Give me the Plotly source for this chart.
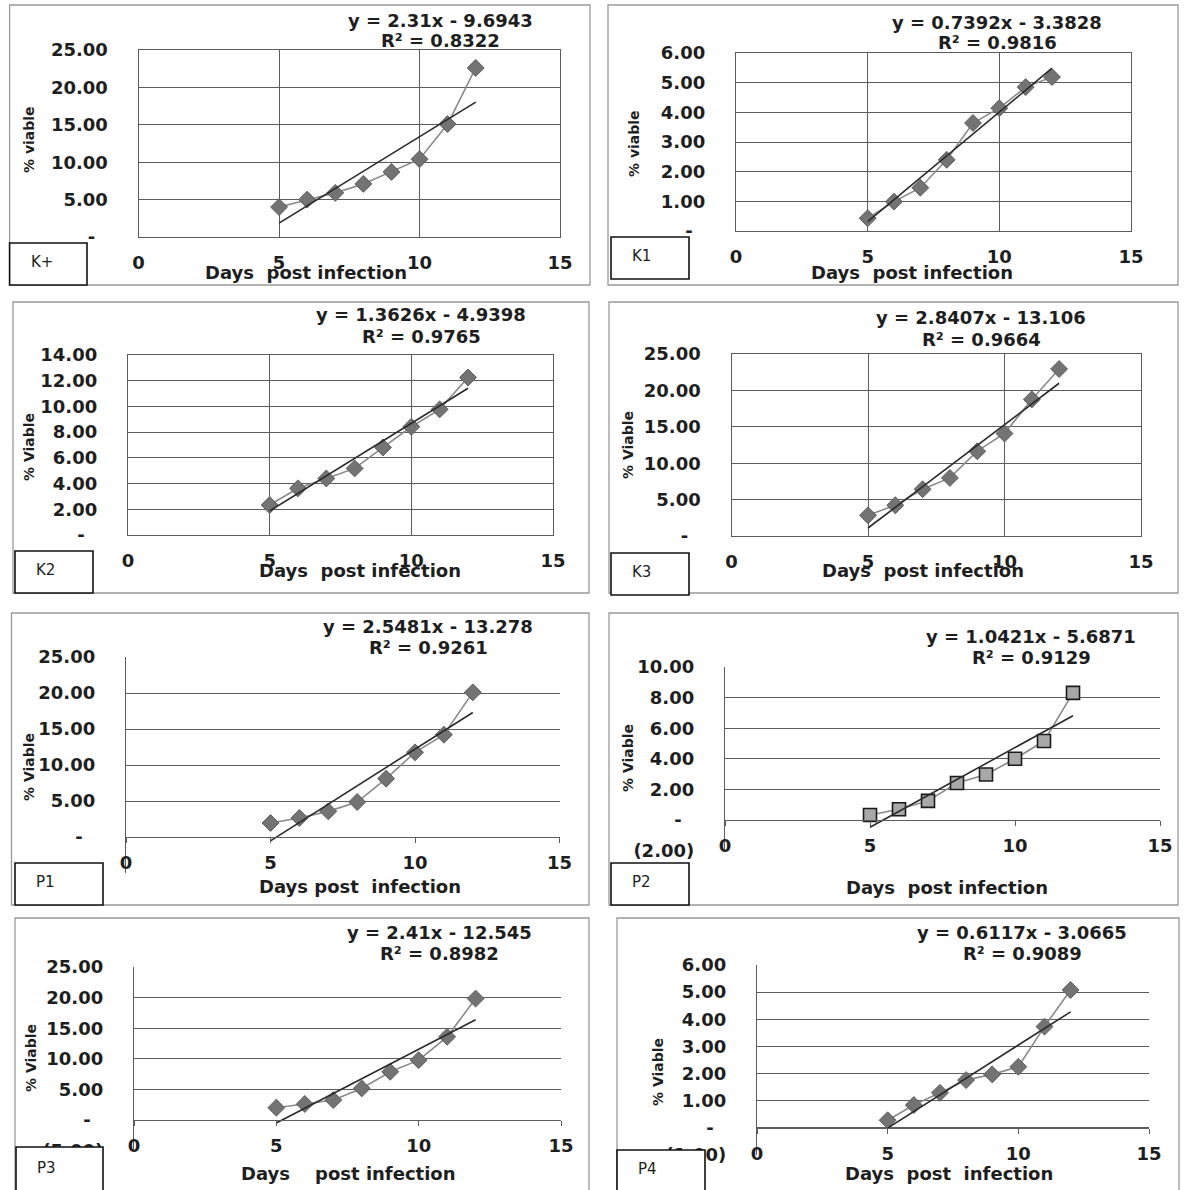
import plotly.graph_objects as go

W, H = 1186, 1190

# ---------------- data ----------------
days = [5, 6, 7, 8, 9, 10, 11, 12]
viable_kplus = [4.0, 5.0, 5.9, 7.1, 8.7, 10.4, 15.1, 22.6]
viable_k1 = [0.43, 0.99, 1.46, 2.40, 3.64, 4.14, 4.85, 5.19]
viable_k2 = [2.33, 3.63, 4.40, 5.18, 6.81, 8.42, 9.77, 12.25]
viable_k3 = [2.84, 4.22, 6.42, 7.98, 11.65, 14.08, 18.76, 22.94]
viable_p1 = [1.94, 2.64, 3.56, 4.86, 8.10, 11.76, 14.21, 20.09]
viable_p2 = [0.33, 0.70, 1.25, 2.42, 2.97, 4.00, 5.16, 8.31]
viable_p3 = [2.01, 2.61, 3.26, 5.16, 7.88, 9.78, 13.59, 19.84]
viable_p4 = [0.28, 0.84, 1.29, 1.76, 1.97, 2.25, 3.73, 5.08]

panel_names = ["K+", "K1", "K2", "K3", "P1", "P2", "P3", "P4"]
slopes = [2.31, 0.7392, 1.3626, 2.8407, 2.5481, 1.0421, 2.41, 0.6117]
intercepts = [-9.6943, -3.3828, -4.9398, -13.106, -13.278, -5.6871, -12.545, -3.0665]
slope_text = ["2.31", "0.7392", "1.3626", "2.8407", "2.5481", "1.0421", "2.41", "0.6117"]
intercept_text = ["9.6943", "3.3828", "4.9398", "13.106", "13.278", "5.6871", "12.545", "3.0665"]
r2_text = ["0.8322", "0.9816", "0.9765", "0.9664", "0.9261", "0.9129", "0.8982", "0.9089"]
y_titles = ["% viable", "% viable", "% Viable", "% Viable", "% Viable", "% Viable", "% Viable", "% Viable"]
x_titles = ["Days  post infection", "Days  post infection", "Days  post infection",
            "Days  post infection", "Days post  infection", "Days  post infection",
            "Days    post infection", "Days  post  infection"]

x_tick_values = [0, 5, 10, 15]
x_tick_labels = ["0", "5", "10", "15"]

yvals_25 = [0, 5, 10, 15, 20, 25]
ylabs_25 = ["-", "5.00", "10.00", "15.00", "20.00", "25.00"]
yvals_6 = [0, 1, 2, 3, 4, 5, 6]
ylabs_6 = ["-", "1.00", "2.00", "3.00", "4.00", "5.00", "6.00"]
yvals_14 = [0, 2, 4, 6, 8, 10, 12, 14]
ylabs_14 = ["-", "2.00", "4.00", "6.00", "8.00", "10.00", "12.00", "14.00"]
yvals_m5_25 = [-5, 0, 5, 10, 15, 20, 25]
ylabs_m5_25 = ["(5.00)", "-", "5.00", "10.00", "15.00", "20.00", "25.00"]
yvals_m2_10 = [-2, 0, 2, 4, 6, 8, 10]
ylabs_m2_10 = ["(2.00)", "-", "2.00", "4.00", "6.00", "8.00", "10.00"]
yvals_m1_6 = [-1, 0, 1, 2, 3, 4, 5, 6]
ylabs_m1_6 = ["(1.00)", "-", "1.00", "2.00", "3.00", "4.00", "5.00", "6.00"]

series = [viable_kplus, viable_k1, viable_k2, viable_k3,
          viable_p1, viable_p2, viable_p3, viable_p4]
y_ticks = [(yvals_25, ylabs_25), (yvals_6, ylabs_6), (yvals_14, ylabs_14), (yvals_25, ylabs_25),
           (yvals_m5_25, ylabs_m5_25), (yvals_m2_10, ylabs_m2_10),
           (yvals_m5_25, ylabs_m5_25), (yvals_m1_6, ylabs_m1_6)]

# ---------------- layout geometry (pixels) ----------------
geom = [
    dict(x0=138.6, x15=560, ytop=50, ybot=237, frame=(9.6, 5, 590, 285), box=(9.6, 243, 87, 285),
         eq=(440, 20), xt=(306, 273), yt=(29, 140), boxed=True),
    dict(x0=736, x15=1131, ytop=53, ybot=231, frame=(608, 5, 1178, 285), box=(611, 237, 689, 279),
         eq=(997, 22), xt=(912, 273), yt=(634, 143), boxed=True),
    dict(x0=128, x15=553, ytop=355, ybot=535, frame=(13, 302, 589, 593), box=(15, 551, 93, 593),
         eq=(421, 315), xt=(360, 570), yt=(29, 447), boxed=True),
    dict(x0=731.5, x15=1141, ytop=354, ybot=536, frame=(609, 302, 1178, 593), box=(611, 553, 689, 595),
         eq=(981, 318), xt=(923, 570), yt=(628, 445), boxed=True),
    dict(x0=126, x15=559.5, ytop=657, ybot=873, yzero=837, frame=(11.5, 613, 589, 905), box=(15, 863, 103, 905),
         eq=(428, 626), xt=(360, 886), yt=(29, 767), boxed=False),
    dict(x0=725, x15=1160, ytop=667, ybot=850.6, yzero=820, frame=(609, 613, 1178, 905), box=(611, 863, 689, 905),
         eq=(1031, 636), xt=(947, 887), yt=(628, 758), boxed=False),
    dict(x0=134, x15=561, ytop=967, ybot=1150.6, yzero=1120, frame=(15, 918, 589, 1195), box=(16, 1147, 103, 1192),
         eq=(439, 932), xt=(348, 1173), yt=(31, 1058), boxed=False),
    dict(x0=757, x15=1149, ytop=965, ybot=1155, yzero=1128, frame=(617, 918, 1179, 1195), box=(617, 1150, 705, 1192),
         eq=(1022, 932), xt=(949, 1173), yt=(658, 1072), boxed=False),
]

GRID = "#5c5c5c"
TEXT = "#1e1e1e"
FONT = "DejaVu Sans"
FS = 18

fig = go.Figure()
layout = dict(
    template="none",
    width=W, height=H, margin=dict(l=0, r=0, t=0, b=0, pad=0, autoexpand=False),
    paper_bgcolor="white", plot_bgcolor="white", showlegend=False,
    font=dict(family=FONT, size=FS, color=TEXT, weight="bold"),
)
shapes = []
annotations = []


def px(x):
    return x / W


def py(y):
    return 1 - y / H


for i in range(8):
    g = geom[i]
    n = "" if i == 0 else str(i + 1)
    xa, ya = "x" + n, "y" + n
    yv, yl = y_ticks[i]
    ymin, ymax = yv[0], yv[-1]

    xaxis = dict(
        domain=[px(g["x0"]), px(g["x15"])], range=[0, 15], automargin=False,
        tickvals=x_tick_values, ticktext=x_tick_labels,
        showline=True, linecolor=GRID, linewidth=1.3, zeroline=False,
        tickfont=dict(size=FS), fixedrange=True,
    )
    yaxis = dict(
        domain=[py(g["ybot"]), py(g["ytop"])], range=[ymin, ymax], automargin=False,
        tickvals=yv, ticktext=[t if t != "-" else "-\u00a0\u00a0" for t in yl],
        showgrid=True, gridcolor=GRID, gridwidth=1.3,
        showline=True, linecolor=GRID, linewidth=1.3, zeroline=False,
        ticks="", ticklabelstandoff=26, tickfont=dict(size=FS), anchor=xa, fixedrange=True,
    )
    if g["boxed"]:
        xaxis.update(showgrid=True, gridcolor=GRID, gridwidth=1.3, mirror=True,
                     ticks="", ticklabelstandoff=9, anchor=ya)
        yaxis.update(mirror=True)
    else:
        xaxis.update(showgrid=False, ticks="outside", ticklen=5, tickcolor=GRID,
                     ticklabelstandoff=4, anchor="free", position=py(g["yzero"]))
    layout["xaxis" + n] = xaxis
    layout["yaxis" + n] = yaxis

    if i == 5:
        marker = dict(symbol="square", size=13, color="#a8a8a8", line=dict(color="#1a1a1a", width=1.6))
    else:
        marker = dict(symbol="diamond", size=13, color="#737373", line=dict(color="#5e5e5e", width=1))
    fig.add_trace(go.Scatter(x=days, y=series[i], mode="lines+markers", xaxis=xa, yaxis=ya,
                             line=dict(color="#8a8a8a", width=1.6), marker=marker,
                             hoverinfo="skip"))
    tx = [days[0], days[-1]]
    ty = [slopes[i] * v + intercepts[i] for v in tx]
    fig.add_trace(go.Scatter(x=tx, y=ty, mode="lines", xaxis=xa, yaxis=ya,
                             line=dict(color="#2a2a2a", width=1.6), hoverinfo="skip"))

    fx0, fy0, fx1, fy1 = g["frame"]
    shapes.append(dict(type="rect", xref="paper", yref="paper", layer="below",
                       x0=px(fx0), x1=px(fx1), y0=py(fy1), y1=py(fy0),
                       line=dict(color="#9a9a9a", width=1.3), fillcolor="rgba(0,0,0,0)"))
    bx0, by0, bx1, by1 = g["box"]
    shapes.append(dict(type="rect", xref="paper", yref="paper", layer="above",
                       x0=px(bx0), x1=px(bx1), y0=py(by1), y1=py(by0),
                       line=dict(color="#111111", width=1.6), fillcolor="white"))
    annotations.append(dict(text=panel_names[i], xref="paper", yref="paper",
                            x=px(bx0 + 19), y=py((by0 + by1) / 2 - 2), xanchor="left", yanchor="middle",
                            showarrow=False, font=dict(size=15, weight="normal", color=TEXT)))
    ex, ey = g["eq"]
    annotations.append(dict(text=f"y = {slope_text[i]}x - {intercept_text[i]}", xref="paper", yref="paper",
                            x=px(ex), y=py(ey), xanchor="center", yanchor="middle",
                            showarrow=False, font=dict(size=FS)))
    annotations.append(dict(text=f"R² = {r2_text[i]}", xref="paper", yref="paper",
                            x=px(ex), y=py(ey + 21), xanchor="center", yanchor="middle",
                            showarrow=False, font=dict(size=FS)))
    xtx, xty = g["xt"]
    annotations.append(dict(text=x_titles[i].replace("  ", "\u00a0 "), xref="paper", yref="paper",
                            x=px(xtx), y=py(xty), xanchor="center", yanchor="middle",
                            showarrow=False, font=dict(size=FS)))
    ytx, yty = g["yt"]
    annotations.append(dict(text=y_titles[i], xref="paper", yref="paper", textangle=-90,
                            x=px(ytx), y=py(yty), xanchor="center", yanchor="middle",
                            showarrow=False, font=dict(size=14)))

layout["shapes"] = shapes
layout["annotations"] = annotations
fig.update_layout(**layout)
fig.write_html(
    "out.html",
    config={"displayModeBar": False},
    post_script="document.body.style.margin='0';document.body.style.overflow='hidden';",
)
